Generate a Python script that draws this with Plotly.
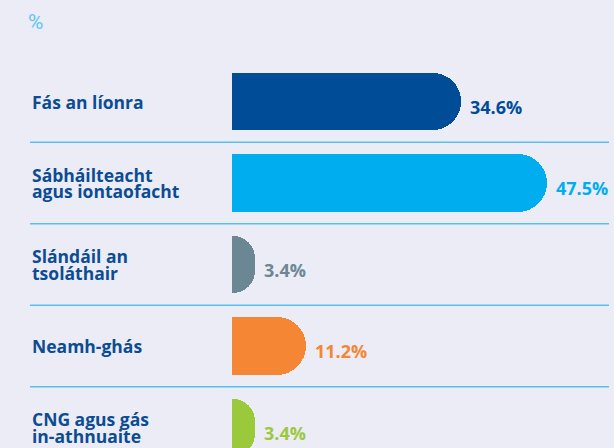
import plotly.graph_objects as go

# ---- data ----
categories = [
    "Fás an líonra",
    "Sábháilteacht<br>agus iontaofacht",
    "Slándáil an<br>tsoláthair",
    "Neamh-ghás",
    "CNG agus gás<br>in-athnuaite",
]
values = [34.6, 47.5, 3.4, 11.2, 3.4]
bar_colors = ["#004c97", "#00aeef", "#6b8794", "#f58634", "#9bc93c"]
unit_label = "%"

# ---- layout geometry ----
W_FIG, H_FIG = 614, 448
ML, MR, MT, MB = 232, 4, 60, 0
PW = W_FIG - ML - MR
PH = H_FIG - MT - MB

def px_x(px):
    return (px - ML) / PW

def px_y(py):
    return 1 - (py - MT) / PH

BG = "#ececf6"
LABEL_COLOR = "#0b4c93"
FONT = "Open Sans"

positions = list(range(len(categories)))

fig = go.Figure(
    go.Bar(
        x=values,
        y=positions,
        orientation="h",
        width=0.7,
        marker=dict(color=bar_colors, line=dict(width=0), cornerradius="50%"),
        hoverinfo="skip",
    )
)

annotations = []
# category labels (one annotation per line for tight line spacing)
LINE_H = 16.5
for i, cat in enumerate(categories):
    lines = cat.split("<br>")
    n = len(lines)
    for j, line in enumerate(lines):
        shift = ((n - 1) / 2 - j) * LINE_H
        annotations.append(dict(
            x=px_x(30), xref="paper", xanchor="left",
            y=i, yref="y", yanchor="middle", yshift=shift,
            text=line, showarrow=False,
            font=dict(family=FONT, size=17.5, color=LABEL_COLOR, weight="bold"),
        ))

# value labels
for i, v in enumerate(values):
    annotations.append(dict(
        x=v, xref="x", xanchor="left", xshift=7,
        y=i, yref="y", yanchor="middle", yshift=-5,
        text=f"{v:.1f}%", showarrow=False,
        font=dict(family=FONT, size=18, color=bar_colors[i], weight="bold"),
    ))

# unit label
annotations.append(dict(
    x=px_x(26), xref="paper", xanchor="left",
    y=px_y(22), yref="paper", yanchor="middle",
    text=unit_label, showarrow=False,
    font=dict(family="Roboto", size=21, color="#5cc6f3"),
))

shapes = []
for i in range(len(categories) - 1):
    shapes.append(dict(
        type="line", xref="paper", yref="y",
        x0=px_x(30), x1=px_x(609), y0=i + 0.5, y1=i + 0.5,
        line=dict(color="#55c1ef", width=1.5),
        layer="below",
    ))

fig.update_layout(
    width=W_FIG, height=H_FIG,
    margin=dict(l=ML, r=MR, t=MT, b=MB),
    paper_bgcolor=BG, plot_bgcolor=BG,
    showlegend=False,
    xaxis=dict(range=[0, PW / 6.63], visible=False, fixedrange=True),
    yaxis=dict(range=[(H_FIG - MB - 101.5) / 81.5, -(101.5 - MT) / 81.5],
               visible=False, fixedrange=True),
    annotations=annotations,
    shapes=shapes,
    bargap=0,
)

fig.write_html(
    "out.html",
    config={"displayModeBar": False},
    post_script="document.body.style.margin='0';document.body.style.background='" + BG + "';",
)
